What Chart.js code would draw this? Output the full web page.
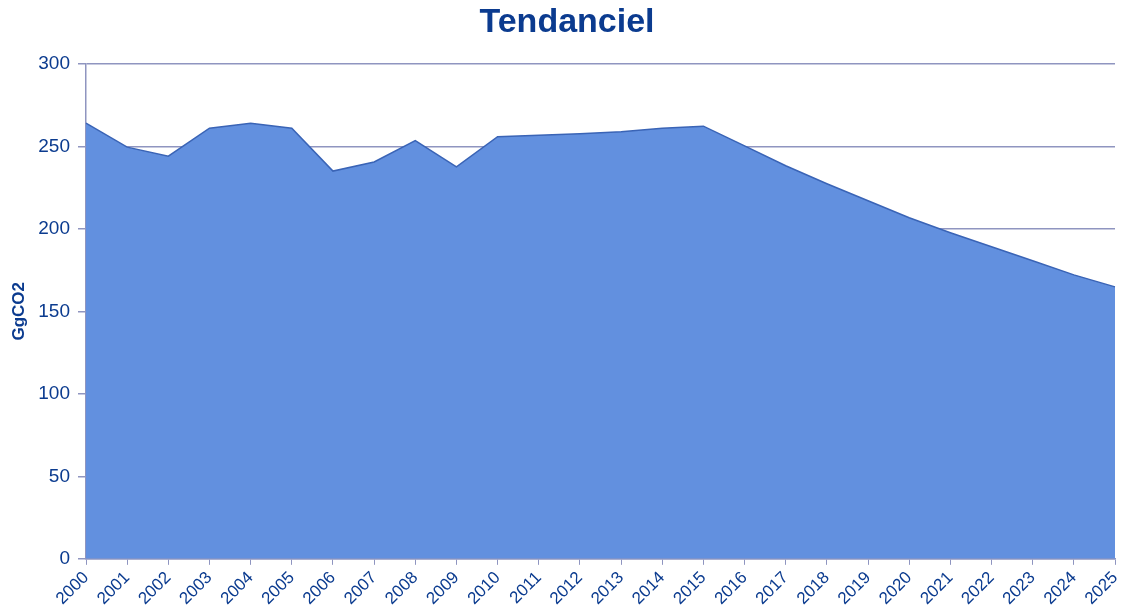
<!DOCTYPE html>
<html>
<head>
<meta charset="utf-8">
<script src="https://cdn.jsdelivr.net/npm/chart.js@4.4.0/dist/chart.umd.min.js"></script>
<style>
  html, body { margin: 0; padding: 0; background: #fff; }
  #wrap { width: 1122px; height: 611px; }
</style>
</head>
<body>
<div id="wrap"><canvas id="myChart"></canvas></div>
<script>
const years = ['2000','2001','2002','2003','2004','2005','2006','2007','2008','2009','2010','2011','2012',
  '2013','2014','2015','2016','2017','2018','2019','2020','2021','2022','2023','2024','2025'];
const emissions = [264, 249.5, 244, 261, 264, 261, 235, 240.5, 253.5, 237.5, 255.8, 256.7, 257.6,
  258.8, 261, 262.2, 250.3, 238.2, 227.3, 217, 206.7, 197.6, 189.1, 180.6, 172.1, 164.8];
const yTicks = [0, 50, 100, 150, 200, 250, 300];

const textBlue = '#0b3b8f';
const gridColor = '#8f95c0';

const config = {
  type: 'line',
  data: {
    labels: years,
    datasets: [{
      label: 'Tendanciel',
      data: emissions,
      fill: 'origin',
      backgroundColor: '#6290df',
      borderColor: '#3a64b6',
      borderWidth: 1.5,
      pointRadius: 0,
      tension: 0
    }]
  },
  options: {
    responsive: true,
    maintainAspectRatio: false,
    animation: false,
    layout: { padding: { left: 19, right: 7, top: 0, bottom: -1 } },
    plugins: {
      legend: { display: false },
      tooltip: { enabled: false },
      title: {
        display: true,
        text: 'Tendanciel',
        color: textBlue,
        font: { family: 'Liberation Sans', size: 34, weight: 'bold' },
        padding: { top: 2, bottom: 21 }
      }
    },
    scales: {
      x: {
        offset: false,
        afterFit: function(scale) {
          scale.paddingLeft = 0;
          scale.paddingRight = 0;
        },
        grid: { display: true, drawOnChartArea: false, drawTicks: true, tickLength: 6, color: gridColor },
        border: { display: true, color: gridColor, width: 1.5 },
        ticks: {
          color: textBlue,
          font: { family: 'Liberation Sans', size: 17 },
          maxRotation: 45,
          minRotation: 45,
          autoSkip: false,
          padding: 3
        }
      },
      y: {
        min: 0,
        max: 300,
        afterBuildTicks: function(axis) {
          axis.ticks = yTicks.map(v => ({ value: v }));
        },
        afterFit: function(scale) {
          scale.width = 67;
        },
        grid: { color: gridColor, lineWidth: 1.5, tickLength: 8 },
        border: { display: true, color: gridColor, width: 1.5 },
        title: {
          display: true,
          text: 'GgCO2',
          color: textBlue,
          font: { family: 'Liberation Sans', size: 17, weight: 'bold' },
          padding: { top: -10, bottom: 0 }
        },
        ticks: {
          color: textBlue,
          font: { family: 'Liberation Sans', size: 19 },
          padding: 8
        }
      }
    }
  }
};

const canvas = document.getElementById('myChart');
const myChart = new Chart(canvas, config);
</script>
</body>
</html>
